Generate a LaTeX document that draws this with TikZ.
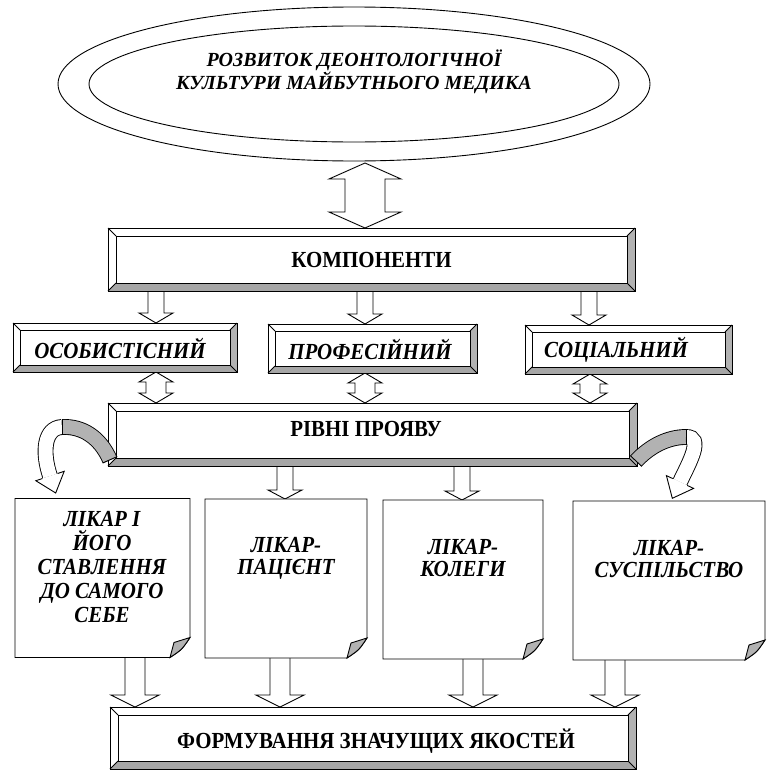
\documentclass[tikz,border=0pt]{standalone}
\usepackage{fontspec}
\setmainfont{Liberation Serif}
\newfontfamily\tallserif{Liberation Serif}[FakeStretch=0.91]
\usetikzlibrary{shapes.geometric}
\newcommand\blkdown[6]{% x, ytop, ytip, shaft half, head half, head length
  \draw[blk] (#1-#4,#2) -- (#1-#4,#3-#6) -- (#1-#5,#3-#6) -- (#1,#3) -- (#1+#5,#3-#6) -- (#1+#4,#3-#6) -- (#1+#4,#2);}
\newcommand\blkboth[6]{% x, y top tip, y bottom tip, shaft half, head half, head length
  \draw[blk] (#1,#2) -- (#1+#5,#2+#6) -- (#1+#4,#2+#6) -- (#1+#4,#3-#6) -- (#1+#5,#3-#6) -- (#1,#3) -- (#1-#5,#3-#6) -- (#1-#4,#3-#6) -- (#1-#4,#2+#6) -- (#1-#5,#2+#6) -- cycle;}
\newcommand\bevelize[2]{%
  \fill[gray!60] (#1.north east) -- ([xshift=-#2pt,yshift=-#2pt]#1.north east) -- ([xshift=-#2pt,yshift=#2pt]#1.south east) -- (#1.south east) -- cycle;
  \fill[gray!70] (#1.south east) -- ([xshift=-#2pt,yshift=#2pt]#1.south east) -- ([xshift=#2pt,yshift=#2pt]#1.south west) -- (#1.south west) -- cycle;
  \draw[ln] (#1.north west) rectangle (#1.south east);
  \draw[ln] ([xshift=#2pt,yshift=-#2pt]#1.north west) rectangle ([xshift=-#2pt,yshift=#2pt]#1.south east);
  \draw[ln] (#1.north west) -- ++(#2pt,-#2pt) (#1.north east) -- ++(-#2pt,-#2pt)
            (#1.south west) -- ++(#2pt,#2pt) (#1.south east) -- ++(-#2pt,#2pt);}
\newcommand\docshape[1]{%
  \filldraw[ln, fill=white] (#1.north west) -- (#1.north east) -- ([yshift=20pt]#1.south east)
     .. controls ([xshift=-8pt,yshift=8pt]#1.south east) .. ([xshift=-20pt]#1.south east) -- (#1.south west) -- cycle;
  \filldraw[ln, fill=gray!60] ([yshift=20pt]#1.south east)
     .. controls ([xshift=-8pt,yshift=8pt]#1.south east) .. ([xshift=-20pt]#1.south east)
     -- ([xshift=-16pt,yshift=15pt]#1.south east) -- cycle;}
\begin{document}
\begin{tikzpicture}[x=1pt,y=-1pt]
\tikzset{
  ln/.style={line width=0.9pt},
  blk/.style={ln, fill=white, line join=miter},
  upfont/.style={font=\tallserif\fontsize{23}{26}\selectfont\bfseries},
  itfont/.style={font=\tallserif\fontsize{23}{26}\selectfont\bfseries\itshape},
  bigbox/.style={rectangle, draw, ln, fill=white, outer sep=0pt, inner sep=0pt, upfont},
  smallbox/.style={rectangle, draw, ln, fill=white, outer sep=0pt, inner sep=0pt,
     minimum height=49pt},
  docbox/.style={rectangle, outer sep=0pt, inner sep=0pt, minimum height=159pt},
  doctext/.style={align=center, font=\tallserif\fontsize{23}{24}\selectfont\bfseries\itshape},
  doctextb/.style={align=center, font=\tallserif\fontsize{23}{22}\selectfont\bfseries\itshape},
  ribbon/.style={line width=0.9pt, double distance=14pt},
}
\useasboundingbox (0,0) rectangle (781,771);
\fill[white] (0,0) rectangle (781,771);

% top ellipses
\node[ellipse, draw, ln, minimum width=592pt, minimum height=154pt] (outer) at (354,84) {};
\node[ellipse, draw, ln, minimum width=530pt, minimum height=116pt] (goal) at (354,84) {};
\node[align=center, font=\fontsize{20}{21}\selectfont\bfseries\itshape] (goaltext) at (354,72)
  {РОЗВИТОК ДЕОНТОЛОГІЧНОЇ\\КУЛЬТУРИ МАЙБУТНЬОГО МЕДИКА};

% arrows
\blkboth{365}{163}{228}{20}{36}{16}
\blkdown{156}{291}{323}{8}{17}{10}
\blkdown{365}{291}{324}{8}{17}{10}
\blkdown{589}{291}{325}{8}{17}{10}
\blkboth{156}{372}{403}{10}{17}{10}
\blkboth{365}{373}{403}{10}{17}{10}
\blkboth{590}{374}{403}{10}{17}{10}
\blkdown{285}{466}{499}{8}{17}{9}
\blkdown{462}{466}{500}{8}{17}{9}
\blkdown{135}{657}{707}{10}{24}{12}
\blkdown{280}{658}{707}{10}{24}{12}
\blkdown{473}{659}{707}{10}{24}{12}
\blkdown{615}{660}{707}{10}{24}{12}

% big boxes
\node[bigbox, minimum width=527pt, minimum height=63pt] (komp) at (371.5,259.5) {КОМПОНЕНТИ};
\bevelize{komp}{8}
\node[bigbox, minimum width=529pt, minimum height=63pt] (riv) at (372.5,434.5) {};
\bevelize{riv}{8}
\node[upfont] (rivt) at (366,429) {РІВНІ ПРОЯВУ};
\node[bigbox, minimum width=526pt, minimum height=62pt] (form) at (373,738) {};
\bevelize{form}{8}
\node[upfont] (formt) at (376,741) {ФОРМУВАННЯ ЗНАЧУЩИХ ЯКОСТЕЙ};

% component boxes
\node[smallbox, minimum width=224pt] (os) at (125,347.5) {};
\bevelize{os}{7}
\node[smallbox, minimum width=209pt] (prof) at (372.5,348.5) {};
\bevelize{prof}{7}
\node[smallbox, minimum width=207pt] (soc) at (628.5,349.5) {};
\bevelize{soc}{7}
\node[itfont] (ost) at (120,348) {ОСОБИСТІСНИЙ};
\node[itfont] (proft) at (370,349) {ПРОФЕСІЙНИЙ};
\node[itfont] (soct) at (616,350) {СОЦІАЛЬНИЙ};

% document boxes
\node[docbox, minimum width=175pt] (d1) at (102.5,578) {};
\node[docbox, minimum width=162pt] (d2) at (286,578.5) {};
\node[docbox, minimum width=160pt] (d3) at (463,579.5) {};
\node[docbox, minimum width=192pt] (d4) at (669,580.5) {};
\docshape{d1}\docshape{d2}\docshape{d3}\docshape{d4}
\node[doctext] (t1) at (102,567) {ЛІКАР І\\ЙОГО\\СТАВЛЕННЯ\\ДО САМОГО\\СЕБЕ};
\node[doctextb] (t2) at (286,558) {ЛІКАР-\\ПАЦІЄНТ};
\node[doctextb] (t3) at (463,558) {ЛІКАР-\\КОЛЕГИ};
\node[doctextb] (t4) at (669,559) {ЛІКАР-\\СУСПІЛЬСТВО};

% left curved arrow
\draw[ribbon, double=gray!60] (110,460) .. controls (100,437) and (82,426) .. (62,427);
\draw[ribbon, double=white] (62,427) .. controls (44,428) and (42,452) .. (50,476);
\draw[ln] (62,419) -- (62,435);
\draw[ln] (117.2,456.6) -- (102.8,462.9);
\filldraw[ln, fill=white] (57.6,473.5) -- (64.2,471.3) -- (55.7,493) -- (35.8,480.7) -- (42.4,478.5);

% right curved arrow
\draw[ribbon, double=gray!60] (636,461) .. controls (650,446) and (668,437) .. (686,437);
\draw[ribbon, double=white] (686,437) .. controls (704,437) and (689.4,462.1) .. (680,482);
\draw[ln] (686,429) -- (686,445);
\draw[ln] (641.8,466.4) -- (630.2,455.6);
\filldraw[ln, fill=white] (687.2,485.4) -- (693.6,488.4) -- (672.3,498.3) -- (666.4,475.6) -- (672.8,478.6);
\end{tikzpicture}
\end{document}
